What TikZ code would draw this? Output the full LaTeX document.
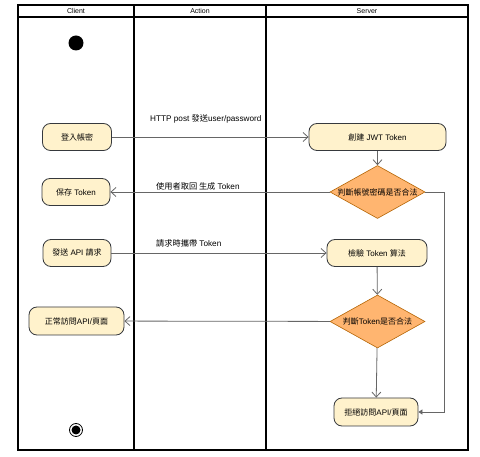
\documentclass[tikz,border=0pt]{standalone}
\usepackage{fontspec}
\setmainfont{Liberation Sans}
\newfontfamily\cjk{Noto Sans CJK TC}
\usetikzlibrary{arrows.meta,shapes.geometric}
\definecolor{nodefill}{HTML}{FFF2CC}
\definecolor{nodedraw}{HTML}{36393D}
\definecolor{decfill}{HTML}{FFB570}
\definecolor{decdraw}{HTML}{B46504}
\definecolor{conn}{HTML}{666666}
\tikzset{
  frame/.style={draw=black,line width=1.1pt},
  hdr/.style={font=\fontsize{7}{8}\selectfont},
  act/.style={draw=nodedraw,fill=nodefill,rounded corners=8pt,line width=0.8pt,inner sep=0pt,font=\fontsize{8}{9}\selectfont},
  dec/.style={diamond,draw=decdraw,fill=decfill,line width=0.6pt,inner sep=0pt,minimum width=95pt,minimum height=53pt},
  conn/.style={draw=conn,line width=0.8pt,-{Straight Barb[length=5pt,width=9pt]}},
  connf/.style={draw=conn,line width=0.8pt,-{Triangle[length=4pt,width=5pt]}},
  lbl/.style={anchor=west,inner sep=0pt,font=\fontsize{8.2}{9}\selectfont},
}
\begin{document}
\begin{tikzpicture}[x=1pt,y=-1pt]
\useasboundingbox[fill=white] (0,0) rectangle (480,457);
% swimlanes
\draw[frame] (18,5) rectangle (468,450);
\draw[frame] (18,17) -- (468,17);
\draw[frame] (134,5) -- (134,450);
\draw[frame] (266,5) -- (266,450);
\node[hdr] (hc) at (76,11) {Client};
\node[hdr] (ha) at (200,11) {Action};
\node[hdr] (hs) at (367,11) {Server};
% start / end
\node[circle,fill=black,minimum size=15pt,inner sep=0pt] (start) at (76,43) {};
\node[circle,draw=black,line width=0.8pt,minimum size=13pt,inner sep=0pt] (endo) at (76,430) {};
\node[circle,fill=black,minimum size=9pt,inner sep=0pt] (endi) at (76,430) {};
% client nodes
\node[act,minimum width=69pt,minimum height=27pt] (login) at (77,137) {\cjk 登入帳密};
\node[act,minimum width=68pt,minimum height=27pt] (save) at (76,192) {{\cjk 保存} Token};
\node[act,minimum width=68pt,minimum height=27pt] (send) at (77,253) {{\cjk 發送} API {\cjk 請求}};
\node[act,minimum width=95pt,minimum height=28pt] (ok) at (76.5,321) {{\cjk 正常訪問}API/{\cjk 頁面}};
% server nodes
\node[act,minimum width=137pt,minimum height=27pt] (create) at (377.5,137) {{\cjk 創建} JWT Token};
\node[dec,label={center:{\fontsize{8}{9}\selectfont\cjk 判斷帳號密碼是否合法}}] (d1) at (377.5,192) {};
\node[act,minimum width=100pt,minimum height=27pt] (check) at (377,253) {{\cjk 檢驗} Token {\cjk 算法}};
\node[dec,label={center:{\fontsize{8}{9}\selectfont{\cjk 判斷}Token{\cjk 是否合法}}}] (d2) at (377.5,321.5) {};
\node[act,minimum width=84pt,minimum height=28pt] (deny) at (376,412) {{\cjk 拒絕訪問}API/{\cjk 頁面}};
\coordinate (c1) at (444,192);
\coordinate (c2) at (444,412);
% connectors
\draw[conn] (login) -- (create);
\draw[conn] (create) -- (d1);
\draw[conn] (d1) -- (save);
\draw[connf] (d1.east) -- (c1) -- (c2) -- (deny);
\draw[conn] (send) -- (check);
\draw[conn] (check) -- (d2);
\draw[conn] (d2) -- (ok);
\draw[conn] (d2) -- (deny);
% labels
\node[lbl] (l1) at (150,119) {HTTP post {\cjk 發送}user/password};
\node[lbl] (l2) at (156,186) {{\cjk 使用者取回 生成} Token};
\node[lbl] (l3) at (156,243) {{\cjk 請求時攜帶} Token};
\end{tikzpicture}
\end{document}
